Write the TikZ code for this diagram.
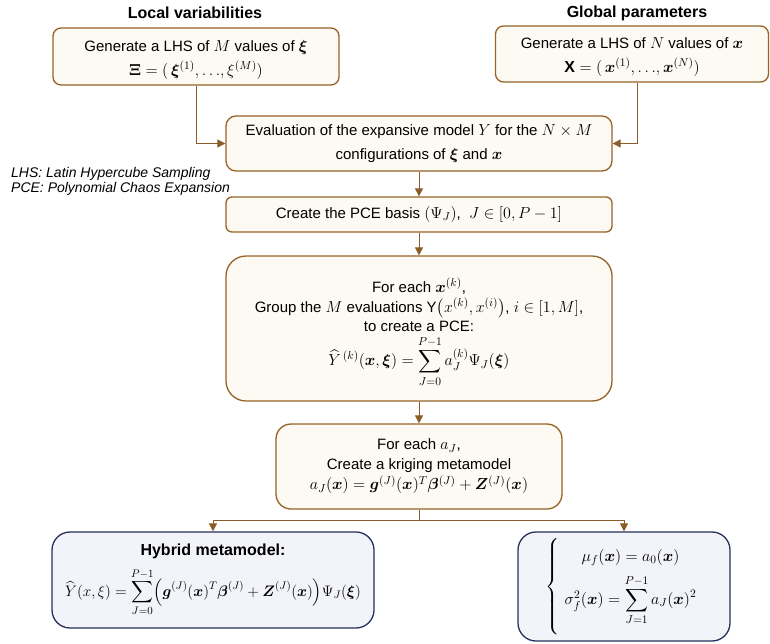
\RequirePackage{fix-cm}
\documentclass[tikz,border=0pt]{standalone}
\usepackage{amsmath,amssymb}
\usepackage{bm}
\usepackage{fontspec}
\setmainfont{Liberation Sans}
\DeclareMathSizes{15}{16}{11.5}{9}
\usetikzlibrary{arrows.meta}
\definecolor{bordc}{RGB}{150,98,38}
\definecolor{fillc}{RGB}{253,250,243}
\definecolor{arrc}{RGB}{140,92,40}
\definecolor{navyc}{RGB}{38,48,92}
\definecolor{bluef}{RGB}{243,244,250}
\begin{document}
\begin{tikzpicture}[x=1pt,y=-1pt,
  box/.style={draw=bordc, fill=fillc, line width=1.3pt, rounded corners=8pt,
    align=center, inner sep=0pt, font=\fontsize{15}{19}\selectfont},
  bbox/.style={box, draw=navyc, fill=bluef, rounded corners=18pt},
  arr/.style={draw=arrc, line width=1pt, -{Triangle[length=8pt,width=8pt]}},
  lin/.style={draw=arrc, line width=1pt},
  title/.style={font=\fontsize{16}{19}\selectfont\bfseries, inner sep=0pt},
  note/.style={font=\fontsize{14}{17}\selectfont\itshape, inner sep=0pt, anchor=west}]
\useasboundingbox (0,0) rectangle (770,643);

\node[title] (t1) at (195,13) {Local variabilities};
\node[title] (t2) at (637,13) {Global parameters};

\node[box, minimum width=286pt, minimum height=57pt] (b1) at (196,56.5)
  {\rule{0pt}{17pt}Generate a LHS of $M$ values of $\bm{\xi}$\\[5pt]
   $\bm{\Xi}=(\,\bm{\xi}^{(1)},{\ldots},\xi^{(M)})$};
\node[box, minimum width=273pt, minimum height=56pt] (b2) at (632,54)
  {\rule{0pt}{17pt}Generate a LHS of $N$ values of $\bm{x}$\\[5pt]
   $\mathbf{X}=(\,\bm{x}^{(1)},{\ldots},\bm{x}^{(N)})$};

\node[box, rounded corners=10pt, minimum width=386pt, minimum height=55pt] (b3) at (419,143.5)
  {Evaluation of the expansive model $Y$ for the $N\times M$\\[5pt]
   configurations of $\bm{\xi}$ and $\bm{x}$};

\node[note] (n1) at (11,174) {LHS: Latin Hypercube Sampling};
\node[note] (n2) at (11,189) {PCE: Polynomial Chaos Expansion};

\node[box, rounded corners=6pt, minimum width=386pt, minimum height=35pt] (b4) at (419,214.5)
  {Create the PCE basis $(\Psi_J)$,\ \ $J\in[0,P-1]$};

\node[box, rounded corners=20pt, minimum width=386pt, minimum height=145pt] (b5) at (419,328.5)
  {\rule{0pt}{22pt}For each $\bm{x}^{(k)}$,\\[1pt]
   Group the $M$ evaluations Y$\bigl(x^{(k)},x^{(i)}\bigr)$,\ $i\in[1,M]$,\\[0pt]
   to create a PCE:\\[4pt]
   $\displaystyle \widehat{Y}^{\,(k)}(\bm{x},\bm{\xi})=\sum_{J=0}^{P-1}a_J^{(k)}\Psi_J(\bm{\xi})$};

\node[box, rounded corners=15pt, minimum width=286pt, minimum height=85pt] (b6) at (419,466.5)
  {For each $a_J$,\\[1pt]
   Create a kriging metamodel\\[1pt]
   $a_J(\bm{x})=\bm{g}^{(J)}(\bm{x})^T\bm{\beta}^{(J)}+\bm{Z}^{(J)}(\bm{x})$};

\node[bbox, minimum width=322pt, minimum height=96pt] (b7) at (213,580)
  {{\fontsize{16}{19}\selectfont\textbf{Hybrid metamodel:}}\\[8pt]
   \scalebox{0.95}{$\displaystyle \widehat{Y}(x,\xi)=\sum_{J=0}^{P-1}\Bigl(\bm{g}^{(J)}(\bm{x})^T\bm{\beta}^{(J)}+\bm{Z}^{(J)}(\bm{x})\Bigr)\Psi_J(\bm{\xi})$}};

\node[bbox, minimum width=212pt, minimum height=109pt] (b8) at (624,586.5)
  {$\left\{\rule[-44pt]{0pt}{92pt}\begin{array}{c}
    \mu_f(\bm{x})=a_0(\bm{x})\\[8pt]
    \sigma_f^2(\bm{x})=\displaystyle\sum_{J=1}^{P-1}a_J(\bm{x})^2
   \end{array}\right.$};

\draw[arr] (b1.south) |- (b3.west);
\draw[arr] ([xshift=5pt]b2.south) |- (b3.east);
\draw[arr] (b3) -- (b4);
\draw[arr] (b4) -- (b5);
\draw[arr] (b5) -- (b6);
\coordinate (split) at (419,520);
\draw[lin] (b6.south) -- (split);
\draw[arr] (split) -| (b7.north);
\draw[arr] (split) -| (b8.north);
\end{tikzpicture}
\end{document}
